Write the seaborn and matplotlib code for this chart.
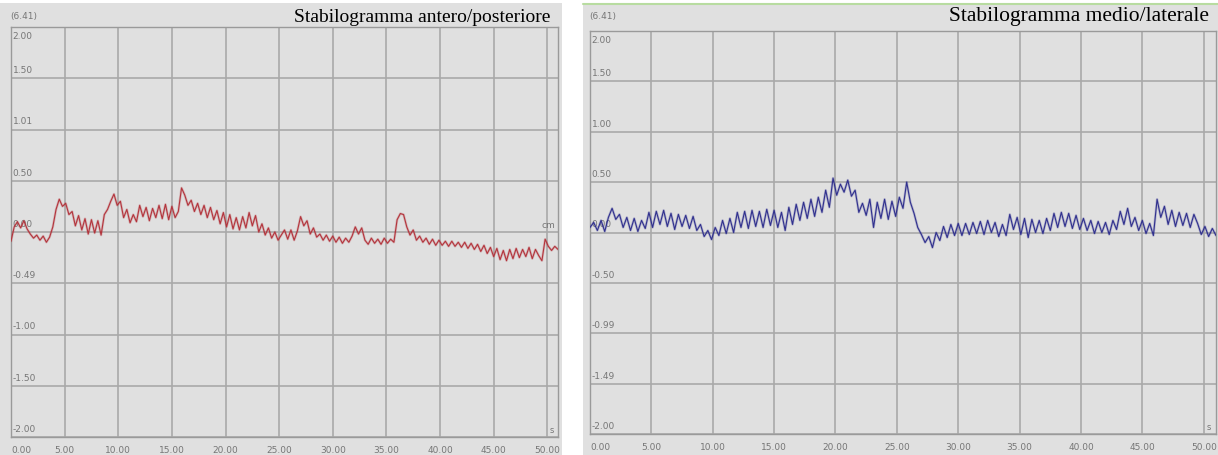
import numpy as np
import pandas as pd
import matplotlib
matplotlib.use("Agg")
import matplotlib.pyplot as plt
from matplotlib.patches import Rectangle
import seaborn as sns

# tempo in secondi, un campione ogni 0.3 s
tempo = np.round(np.arange(0, 51.01, 0.3), 2)

# stabilogramma antero/posteriore (cm)
ap = [
    -0.09, 0.05, 0.10, 0.04, 0.11, 0.03, -0.02, -0.06, -0.03, -0.08,
    -0.04, -0.10, -0.05, 0.05, 0.22, 0.32, 0.25, 0.28, 0.17, 0.20,
    0.06, 0.16, 0.02, 0.13, -0.02, 0.12, -0.01, 0.11, -0.03, 0.17,
    0.22, 0.30, 0.37, 0.26, 0.30, 0.14, 0.22, 0.09, 0.17, 0.10,
    0.26, 0.15, 0.24, 0.11, 0.23, 0.14, 0.26, 0.13, 0.27, 0.12,
    0.25, 0.14, 0.20, 0.43, 0.36, 0.26, 0.31, 0.20, 0.28, 0.17,
    0.26, 0.14, 0.24, 0.12, 0.21, 0.08, 0.19, 0.05, 0.17, 0.03,
    0.14, 0.02, 0.15, 0.04, 0.19, 0.06, 0.16, 0.00, 0.08, -0.03,
    0.04, -0.06, 0.00, -0.08, -0.03, 0.02, -0.07, 0.02, -0.08, 0.01,
    0.15, 0.06, 0.11, -0.02, 0.04, -0.05, -0.02, -0.08, -0.03, -0.09,
    -0.04, -0.10, -0.05, -0.11, -0.06, -0.10, -0.04, 0.05, -0.02, 0.04,
    -0.08, -0.12, -0.06, -0.11, -0.07, -0.12, -0.06, -0.11, -0.07, -0.10,
    0.12, 0.18, 0.17, 0.05, -0.03, 0.02, -0.08, -0.04, -0.10, -0.06,
    -0.12, -0.07, -0.13, -0.08, -0.13, -0.09, -0.14, -0.09, -0.14, -0.10,
    -0.15, -0.10, -0.16, -0.11, -0.17, -0.12, -0.19, -0.13, -0.21, -0.15,
    -0.24, -0.16, -0.27, -0.18, -0.28, -0.17, -0.26, -0.16, -0.25, -0.17,
    -0.24, -0.15, -0.26, -0.17, -0.23, -0.28, -0.07, -0.14, -0.18, -0.14,
    -0.17,
]

# stabilogramma medio/laterale (cm)
ml = [
    0.05, 0.10, 0.02, 0.12, 0.01, 0.15, 0.24, 0.13, 0.18, 0.05,
    0.15, 0.02, 0.14, 0.01, 0.12, 0.04, 0.20, 0.05, 0.21, 0.08,
    0.22, 0.06, 0.19, 0.03, 0.18, 0.06, 0.17, 0.04, 0.16, 0.02,
    0.08, -0.04, 0.02, -0.07, 0.05, -0.03, 0.12, -0.01, 0.14, 0.00,
    0.20, 0.05, 0.21, 0.04, 0.22, 0.06, 0.21, 0.05, 0.23, 0.07,
    0.22, 0.05, 0.20, 0.02, 0.25, 0.08, 0.28, 0.12, 0.30, 0.14,
    0.33, 0.16, 0.35, 0.20, 0.42, 0.25, 0.54, 0.37, 0.48, 0.40,
    0.52, 0.36, 0.42, 0.20, 0.29, 0.17, 0.33, 0.05, 0.30, 0.14,
    0.33, 0.13, 0.31, 0.16, 0.35, 0.24, 0.50, 0.30, 0.19, 0.05,
    -0.02, -0.10, -0.04, -0.15, 0.00, -0.08, 0.06, -0.05, 0.08, -0.03,
    0.09, -0.03, 0.09, -0.02, 0.10, -0.01, 0.11, -0.02, 0.12, 0.00,
    0.10, -0.04, 0.08, -0.03, 0.18, 0.03, 0.15, -0.02, 0.14, -0.05,
    0.13, 0.00, 0.12, -0.01, 0.14, 0.02, 0.19, 0.05, 0.20, 0.06,
    0.19, 0.04, 0.17, 0.03, 0.14, 0.02, 0.12, -0.01, 0.11, 0.00,
    0.10, -0.02, 0.12, 0.03, 0.21, 0.08, 0.24, 0.06, 0.15, 0.02,
    0.12, -0.01, 0.09, -0.03, 0.33, 0.15, 0.26, 0.08, 0.22, 0.06,
    0.20, 0.07, 0.19, 0.05, 0.18, 0.09, -0.02, 0.06, -0.04, 0.04,
    -0.03,
]

x_ticks = [0, 5, 10, 15, 20, 25, 30, 35, 40, 45, 50]
x_labels = ["0.00", "5.00", "10.00", "15.00", "20.00", "25.00", "30.00",
            "35.00", "40.00", "45.00", "50.00"]
y_ticks = [2.0, 1.5, 1.0, 0.5, 0.0, -0.5, -1.0, -1.5, -2.0]
y_labels_ap = ["2.00", "1.50", "1.01", "0.50", "0.00", "-0.49", "-1.00", "-1.50", "-2.00"]
y_labels_ml = ["2.00", "1.50", "1.00", "0.50", "0.00", "-0.50", "-0.99", "-1.49", "-2.00"]

df = pd.DataFrame({"t": tempo, "ap": ap, "ml": ml})

sns.set_theme(style="white")
plt.rcParams["font.family"] = ["DejaVu Sans"]

W, H = 1218, 456
fig = plt.figure(figsize=(W / 100, H / 100), dpi=100)
fig.patch.set_facecolor("white")

bg = "#e0e0e0"
griglia = "#a9a9a9"
testo = "#767676"

# pannelli grigi di sfondo
fig.patches.append(Rectangle((0 / W, 0), 562 / W, 1 - 4 / H, transform=fig.transFigure,
                             facecolor=bg, edgecolor="none", zorder=-10))
fig.patches.append(Rectangle((583 / W, 0), 635 / W, 1 - 5 / H, transform=fig.transFigure,
                             facecolor=bg, edgecolor="none", zorder=-10))
fig.lines.append(plt.Line2D([583 / W, 1], [1 - 5 / H, 1 - 5 / H], transform=fig.transFigure,
                            color="#b8dca0", lw=1.5))

pannelli = [
    dict(col="ap", rect=(11, 28, 558, 438), colore="#b3343c", ylab=y_labels_ap,
         titolo="Stabilogramma antero/posteriore", tx=550, fs=14, cm=True),
    dict(col="ml", rect=(590, 32, 1216, 435), colore="#30308e", ylab=y_labels_ml,
         titolo="Stabilogramma medio/laterale", tx=1209, fs=15.5, cm=False),
]

for p in pannelli:
    x0, y0, x1, y1 = p["rect"]
    ax = fig.add_axes([x0 / W, 1 - y1 / H, (x1 - x0) / W, (y1 - y0) / H])
    ax.set_facecolor(bg)
    ax.set_xlim(0, 51)
    ax.set_ylim(-2, 2)
    ax.set_xticks(x_ticks)
    ax.set_xticklabels(x_labels)
    ax.set_yticks(y_ticks)
    ax.set_yticklabels([])
    ax.tick_params(axis="x", length=0, pad=6, labelsize=6.5, labelcolor=testo)
    ax.tick_params(axis="y", length=0)
    ax.get_xticklabels()[0].set_horizontalalignment("left")
    ax.grid(True, color=griglia, lw=1.2)
    ax.set_axisbelow(True)
    for s in ax.spines.values():
        s.set_color("#9a9a9a")
        s.set_linewidth(1.0)

    for yv, lab in zip(y_ticks, p["ylab"]):
        va = "top" if yv == 2.0 else "bottom"
        off = -0.04 if yv == 2.0 else 0.04
        ax.text(0.15, yv + off, lab, fontsize=6.5, color=testo, va=va, ha="left", zorder=1)

    # alone chiaro e traccia
    sns.lineplot(data=df, x="t", y=p["col"], ax=ax, color=p["colore"], alpha=0.25,
                 lw=1.8, zorder=3)
    sns.lineplot(data=df, x="t", y=p["col"], ax=ax, color=p["colore"], lw=0.8, zorder=4)
    ax.set_xlabel("")
    ax.set_ylabel("")

    ax.text(50.6, -1.97, "s", fontsize=6, color=testo, ha="right", va="bottom")
    if p["cm"]:
        ax.text(50.7, 0.03, "cm", fontsize=6.5, color=testo, ha="right", va="bottom", zorder=2)

    fig.text(x0 / W - 1 / W, 1 - 17 / H, "(6.41)", fontsize=6.5, color=testo, ha="left", va="center")
    fig.text(p["tx"] / W, 1 - 17 / H, p["titolo"], fontsize=p["fs"], color="black",
             family=["Liberation Serif", "DejaVu Serif"], ha="right", va="center")

fig.savefig("out.png", dpi=100, facecolor=fig.get_facecolor())
